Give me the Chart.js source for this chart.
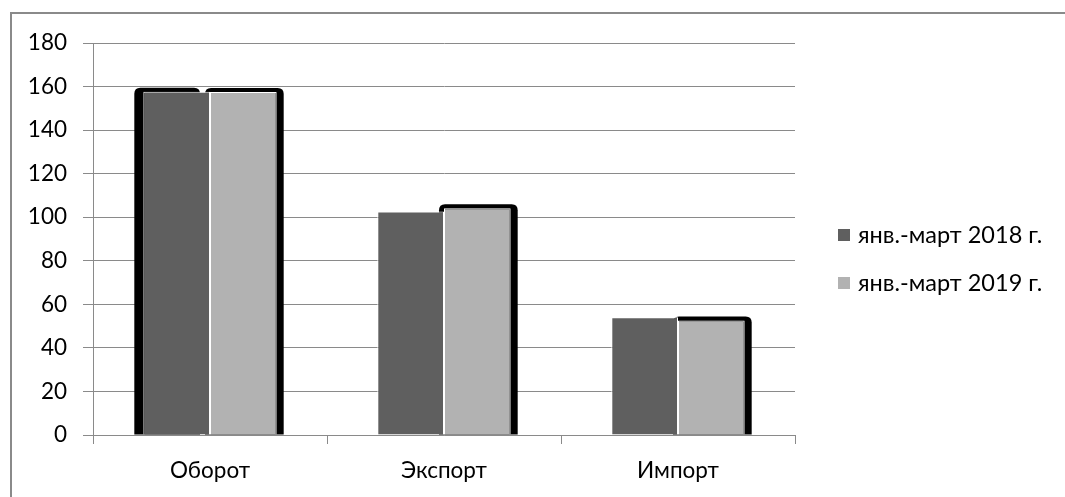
<!DOCTYPE html>
<html><head><meta charset="utf-8">
<script src="https://cdn.jsdelivr.net/npm/chart.js@4/dist/chart.umd.min.js"></script>
<style>
html,body{margin:0;padding:0;background:#fff;overflow:hidden}
#wrap{position:relative;width:1065px;height:497px}
#frame{position:absolute;left:10px;top:12px;width:1070px;height:500px;border-left:2px solid #8a8a8a;border-top:2px solid #8a8a8a;box-sizing:border-box}
canvas{position:absolute;left:0;top:0}
#legend{position:absolute;left:838px;top:218px;font-family:Lato,sans-serif;font-size:23.5px;color:#000}
#legend div{height:48px;line-height:32px;white-space:nowrap}
#legend span.sw{display:inline-block;width:12px;height:12px;margin-right:8px;vertical-align:2px}
</style></head>
<body><div id="wrap"><div id="frame"></div><canvas id="c" width="1065" height="497"></canvas><div id="legend"></div></div>
<script>
const categories = ['Оборот', 'Экспорт', 'Импорт'];
const seriesNames = ['янв.-март 2018 г.', 'янв.-март 2019 г.'];
const values2018 = [157.6, 102.6, 54.1];
const values2019 = [157.5, 104.1, 52.6];
const yTicks = [0, 20, 40, 60, 80, 100, 120, 140, 160, 180];
const colors = ['#5f5f5f', '#b2b2b2'];

const shadowPlugin = {
  id: 'barShadow',
  beforeDatasetsDraw(chart) {
    const ctx = chart.ctx;
    const specs = [
      {ds: 0, idx: 0, side: 'left'},
      {ds: 1, idx: 0, side: 'right'},
      {ds: 1, idx: 1, side: 'right'},
      {ds: 1, idx: 2, side: 'right'}
    ];
    ctx.save();
    ctx.fillStyle = '#000';
    specs.forEach(s => {
      const el = chart.getDatasetMeta(s.ds).data[s.idx];
      const w = el.width;
      let l = el.x - w / 2, r = el.x + w / 2;
      if (s.side === 'left') { l -= 9; r -= 10; } else { l -= 5; r += 7; }
      const t = el.y - 4, b = el.base;
      const rad = 6;
      ctx.beginPath();
      ctx.moveTo(l, b);
      ctx.lineTo(l, t + rad);
      ctx.quadraticCurveTo(l, t, l + rad, t);
      ctx.lineTo(r - rad, t);
      ctx.quadraticCurveTo(r, t, r, t + rad);
      ctx.lineTo(r, b);
      ctx.closePath();
      ctx.fill();
    });
    ctx.restore();
  }
};

const font = {family: 'Lato, sans-serif', size: 22.5};
const chart = new Chart(document.getElementById('c'), {
  type: 'bar',
  data: {
    labels: categories,
    datasets: [
      {label: seriesNames[0], data: values2018, backgroundColor: colors[0], borderColor: '#fff', borderWidth: 1},
      {label: seriesNames[1], data: values2019, backgroundColor: colors[1], borderColor: '#fff', borderWidth: 1}
    ]
  },
  options: {
    responsive: false,
    animation: false,
    layout: {padding: {left: 0, top: 43, right: 270, bottom: 0}},
    plugins: {legend: {display: false}, tooltip: {enabled: false}},
    datasets: {bar: {categoryPercentage: 0.57, barPercentage: 1}},
    scales: {
      x: {
        offset: true,
        grid: {offset: true, drawOnChartArea: false, drawTicks: true, tickLength: 9, color: '#8a8a8a', lineWidth: 1},
        border: {color: '#8a8a8a', width: 1},
        ticks: {font, color: '#000', padding: 13},
        afterFit: s => { s.height = 62; }
      },
      y: {
        min: 0, max: 180,
        afterBuildTicks: s => { s.ticks = yTicks.map(v => ({value: v})); },
        grid: {color: '#8a8a8a', lineWidth: 1, tickLength: 10},
        border: {color: '#8a8a8a', width: 1},
        ticks: {font, color: '#000', padding: 16},
        afterFit: s => { s.width = 93; }
      }
    }
  },
  plugins: [shadowPlugin]
});

const lg = document.getElementById('legend');
chart.data.datasets.forEach(d => {
  const row = document.createElement('div');
  const sw = document.createElement('span');
  sw.className = 'sw'; sw.style.background = d.backgroundColor;
  row.appendChild(sw);
  row.appendChild(document.createTextNode(d.label));
  lg.appendChild(row);
});
</script></body></html>
